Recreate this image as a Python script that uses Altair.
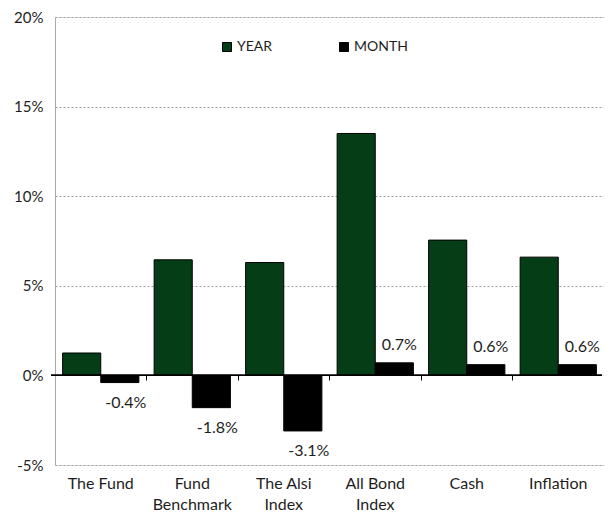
import altair as alt
import pandas as pd

CATEGORIES = ["The Fund", "Fund Benchmark", "The Alsi Index", "All Bond Index", "Cash", "Inflation"]
LABEL_LINES = {
    "The Fund": ["The Fund"],
    "Fund Benchmark": ["Fund", "Benchmark"],
    "The Alsi Index": ["The Alsi", "Index"],
    "All Bond Index": ["All Bond", "Index"],
    "Cash": ["Cash"],
    "Inflation": ["Inflation"],
}
SERIES = ["YEAR", "MONTH"]
YEAR = [1.25, 6.45, 6.3, 13.5, 7.55, 6.6]
MONTH = [-0.4, -1.8, -3.1, 0.7, 0.6, 0.6]
Y_TICKS = [-5, 0, 5, 10, 15, 20]
COLORS = ["#053E16", "#000000"]

rows = []
for c, y, m in zip(CATEGORIES, YEAR, MONTH):
    rows.append({"category": c, "series": "YEAR", "value": y, "label": f"{y:.1f}%"})
    rows.append({"category": c, "series": "MONTH", "value": m, "label": f"{m:.1f}%"})
df = pd.DataFrame(rows)

W, H = 549, 448
FONT = "Lato"
TXT = "#1e1e1e"

label_expr = ""
for c, lines in LABEL_LINES.items():
    arr = "[" + ",".join("'" + l + "'" for l in lines) + "]"
    label_expr += f"datum.value == '{c}' ? {arr} : "
label_expr += "datum.value"

xscale = alt.Scale(domain=CATEGORIES, paddingInner=0, paddingOuter=0)
yscale = alt.Scale(domain=[-5, 20], nice=False)
xoff_scale = alt.Scale(paddingOuter=0.2, paddingInner=0)

base = alt.Chart(df)

x_main = alt.X("category:N", sort=CATEGORIES, scale=xscale,
               axis=alt.Axis(title=None, orient="bottom", labelAngle=0, domain=False, ticks=False,
                             labelExpr=label_expr, labelFontSize=16, labelPadding=10,
                             labelLineHeight=21, labelColor=TXT, labelFont=FONT))
y_main = alt.Y("value:Q", scale=yscale,
               axis=alt.Axis(title=None, values=Y_TICKS, labelExpr="datum.value + '%'",
                             gridDash=[2, 2], gridColor="#a0a0a0", domainColor="#aaaaaa",
                             ticks=False, labelPadding=12, labelFontSize=15,
                             labelColor=TXT, labelFont=FONT))

bars = base.mark_bar(stroke="black", strokeWidth=1).encode(
    x=x_main,
    xOffset=alt.XOffset("series:N", sort=SERIES, scale=xoff_scale),
    y=y_main,
    color=alt.Color("series:N", sort=SERIES,
                    scale=alt.Scale(domain=SERIES, range=COLORS),
                    legend=alt.Legend(title=None, orient="none", legendX=165, legendY=23,
                                      direction="horizontal", symbolType="square",
                                      symbolSize=81, symbolStrokeColor="black",
                                      symbolStrokeWidth=1, labelFontSize=14,
                                      labelColor=TXT, labelFont=FONT, labelOffset=3,
                                      columnPadding=64, padding=0)),
)

zero = base.mark_rule(color="black", strokeWidth=1).encode(
    x=alt.value(-4), x2=alt.value(W - 2), y=alt.datum(0)
)

ticks_layer = base.mark_point(opacity=0).encode(
    x=alt.X("category:N", sort=CATEGORIES, scale=xscale,
            axis=alt.Axis(title=None, orient="bottom", labels=False, domain=False, ticks=True,
                          tickSize=5, tickColor="black", tickWidth=1, bandPosition=0,
                          offset=-90, grid=False)),
    y=alt.Y("value:Q", scale=yscale),
)

month = base.transform_filter(alt.datum.series == "MONTH")
neg_labels = month.transform_filter(alt.datum.value < 0).mark_text(
    baseline="middle", dy=20, dx=6, fontSize=16, font=FONT, color=TXT
).encode(
    x=alt.X("category:N", sort=CATEGORIES, scale=xscale, axis=None),
    xOffset=alt.XOffset("series:N", sort=SERIES, scale=xoff_scale),
    y=alt.Y("value:Q", scale=yscale),
    text="label:N",
)
pos_labels = month.transform_filter(alt.datum.value >= 0).mark_text(
    baseline="middle", dy=-18, dx=5, fontSize=16, font=FONT, color=TXT
).encode(
    x=alt.X("category:N", sort=CATEGORIES, scale=xscale, axis=None),
    xOffset=alt.XOffset("series:N", sort=SERIES, scale=xoff_scale),
    y=alt.Y("value:Q", scale=yscale),
    text="label:N",
)

chart = alt.layer(bars, ticks_layer, zero, neg_labels, pos_labels).resolve_axis(
    x="independent"
).properties(
    width=W, height=H, padding={"left": 5, "top": 2, "right": 0, "bottom": 0}
).configure_view(strokeWidth=0, stroke="transparent").configure(
    font=FONT
)

chart.save("out.html", embed_options={"renderer": "svg", "actions": False})
